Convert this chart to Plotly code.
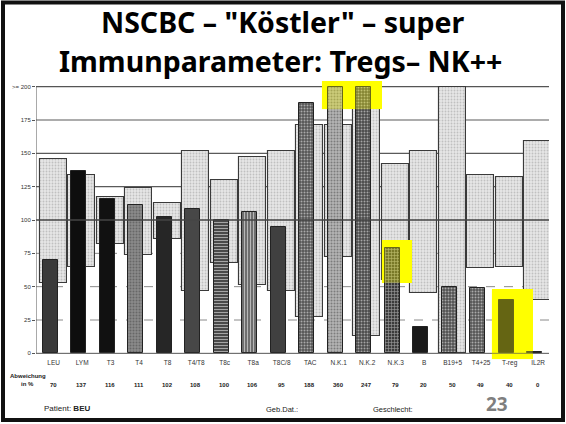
import plotly.graph_objects as go

# categories and values
categories = ["LEU", "LYM", "T3", "T4", "T8", "T4/T8", "T8c", "T8a", "T8C/8", "TAC",
              "N.K.1", "N.K.2", "N.K.3", "B", "B19+5", "T4+25", "T-reg", "IL2R"]
abweichung = [70, 137, 116, 111, 102, 108, 100, 106, 95, 188, 360, 247, 79, 20, 50, 49, 40, 0]
range_low = [53, 65, 82, 74, 86, 47, 68, 51, 47, 27, 72, 13, 55, 45, 0, 64, 65, 40]
range_high = [146, 134, 117, 124, 113, 152, 130, 147, 152, 171, 171, 184, 142, 152, 200, 134, 132, 159]
y_ticks = [0, 25, 50, 75, 100, 125, 150, 175, 200]
y_tick_text = ["0", "25", "50", "75", "100", "125", "150", "175", ">= 200"]

bar_colors = ["#3a3a3a", "#0e0e0e", "#111111", "#8a8a8a", "#262626", "#474747", "#4a4a4a",
              "#6e6e6e", "#404040", "#555555", "#b4b4b4", "#4a4a4a", "#3c3c3c", "#1a1a1a",
              "#505050", "#555555", "#1c1c1c", "#1a1a1a"]
bar_patterns = ["", "", "", ".", "", "", "-", "|", "", ".", ".", ".", "+", "", ".", ".", "", ""]

W, H = 566, 424
L, R, T, B = 36, 17, 80, 64


def px(x):  # page pixel -> paper x
    return (x - L) / (W - L - R)


def py(y):  # page pixel -> paper y
    return (H - B - y) / (H - T - B)


idx = list(range(len(categories)))
shown = [min(v, 200) if v > 0 else 1 for v in abweichung]
ni = categories.index

# yellow marker boxes: (x0, x1, y0, y1) relative to the category slots
marks = [(ni("N.K.1") - 0.47, ni("N.K.2") + 0.63, 183, 204),
         (ni("N.K.3") - 0.37, ni("N.K.3") + 0.68, 53, 85),
         (ni("T-reg") - 0.51, ni("T-reg") + 0.93, -4.5, 48)]

fig = go.Figure()

# normal range boxes (light speckled)
fig.add_trace(go.Bar(
    x=[i + 0.1 for i in idx], y=[h - l for l, h in zip(range_low, range_high)], base=range_low,
    width=0.95, marker=dict(color="#e6e6e6", line=dict(color="#3a3a3a", width=1.1),
                            pattern=dict(shape=".", fgcolor="#9a9a9a", size=3, solidity=0.3)),
    showlegend=False, hoverinfo="skip"))

# yellow marker underlay
fig.add_trace(go.Bar(
    x=[(m[0] + m[1]) / 2 for m in marks], y=[m[3] - m[2] for m in marks], base=[m[2] for m in marks],
    width=[m[1] - m[0] for m in marks], marker=dict(color="#ffff00", line_width=0),
    showlegend=False, hoverinfo="skip"))

# patient bars
fig.add_trace(go.Bar(
    x=idx, y=shown, width=0.52,
    marker=dict(color=bar_colors, line=dict(color="#222", width=1),
                pattern=dict(shape=bar_patterns, fgcolor="#1a1a1a", bgcolor=bar_colors, size=3, solidity=0.35)),
    showlegend=False, hoverinfo="skip"))

shapes = []
# grid lines
for v in y_ticks[1:-1]:
    if v == 100:
        continue
    if v > 100:
        ln = dict(color="#5a5a5a", width=1.2)
    else:
        ln = dict(color="#8a8a8a", width=1, dash="dash")
    shapes.append(dict(type="line", xref="x", yref="y", x0=-0.5, x1=17.5, y0=v, y1=v, line=ln, layer="below"))

# reference line at 100, top line, axes
shapes.append(dict(type="line", xref="x", yref="y", x0=-0.5, x1=17.5, y0=100, y1=100,
                   line=dict(color="#444", width=1.3), layer="above"))
shapes.append(dict(type="line", xref="x", yref="y", x0=-0.5, x1=17.5, y0=200, y1=200,
                   line=dict(color="#555", width=1.3), layer="below"))
shapes.append(dict(type="line", xref="x", yref="y", x0=-0.5, x1=-0.5, y0=0, y1=200,
                   line=dict(color="#555", width=1), layer="above"))
shapes.append(dict(type="line", xref="x", yref="y", x0=-0.5, x1=17.5, y0=0, y1=0,
                   line=dict(color="#555", width=1), layer="above"))
# yellow tint over the bars inside the markers
for x0, x1, y0, y1 in marks:
    shapes.append(dict(type="rect", xref="x", yref="y", x0=x0, x1=x1, y0=y0, y1=y1,
                       fillcolor="rgba(255,255,0,0.32)", line_width=0, layer="above"))
# slide frame
shapes.append(dict(type="rect", xref="paper", yref="paper", x0=px(3), x1=px(563),
                   y0=py(420), y1=py(2.5), line=dict(color="#111", width=4)))

fig.update_layout(
    width=W, height=H, margin=dict(l=L, r=R, t=T, b=B),
    paper_bgcolor="white", plot_bgcolor="white", barmode="overlay", bargap=0,
    shapes=shapes,
    xaxis=dict(range=[-0.5, 17.5], tickvals=[i + 0.12 for i in idx], ticktext=categories,
               showgrid=False, zeroline=False, showline=False, ticks="", ticklabelstandoff=-3,
               tickfont=dict(size=6.5, color="#333", family="Liberation Sans")),
    yaxis=dict(range=[-5, 205], tickvals=y_ticks, ticktext=y_tick_text, showline=False,
               showgrid=False, zeroline=False, ticks="outside", ticklen=3, tickcolor="#555",
               tickfont=dict(size=6, color="#333", family="Liberation Sans")),
)

small = dict(size=6, color="#222", family="Liberation Sans")
for i, v in enumerate(abweichung):
    fig.add_annotation(text=f"<b>{v}</b>", x=i + 0.1, xref="x", xanchor="center",
                       y=py(385), yref="paper", yanchor="middle", showarrow=False, font=small)
fig.add_annotation(text="<b>Abweichung</b>", x=px(28), xref="paper", xanchor="center",
                   y=py(376), yref="paper", yanchor="middle", showarrow=False, font=small)
fig.add_annotation(text="<b>in %</b>", x=px(27), xref="paper", xanchor="center",
                   y=py(384), yref="paper", yanchor="middle", showarrow=False, font=small)

# title lines and footer texts
fig.add_annotation(text="<b>NSCBC – \"Köstler\" – super</b>", x=px(283), xref="paper", xanchor="center",
                   y=py(22), yref="paper", yanchor="middle", showarrow=False,
                   font=dict(size=28.5, color="#000", family="Noto Sans"))
fig.add_annotation(text="<b>Immunparameter: Tregs– NK++</b>", x=px(280), xref="paper", xanchor="center",
                   y=py(61), yref="paper", yanchor="middle", showarrow=False,
                   font=dict(size=28.5, color="#000", family="Noto Sans"))
footer = dict(size=7.5, color="#222", family="Liberation Sans")
fig.add_annotation(text="Patient: <b>BEU</b>", x=px(67), xref="paper", xanchor="center",
                   y=py(408), yref="paper", yanchor="middle", showarrow=False,
                   font=dict(size=8, color="#222", family="Liberation Sans"))
fig.add_annotation(text="Geb.Dat.:", x=px(282), xref="paper", xanchor="center",
                   y=py(409), yref="paper", yanchor="middle", showarrow=False, font=footer)
fig.add_annotation(text="Geschlecht:", x=px(393), xref="paper", xanchor="center",
                   y=py(409), yref="paper", yanchor="middle", showarrow=False, font=footer)
fig.add_annotation(text="<b>23</b>", x=px(497), xref="paper", xanchor="center",
                   y=py(404), yref="paper", yanchor="middle", showarrow=False,
                   font=dict(size=19, color="#7f7f7f", family="Noto Sans"))

fig.write_html("out.html", config={"displayModeBar": False},
               post_script="document.body.style.margin='0';")
